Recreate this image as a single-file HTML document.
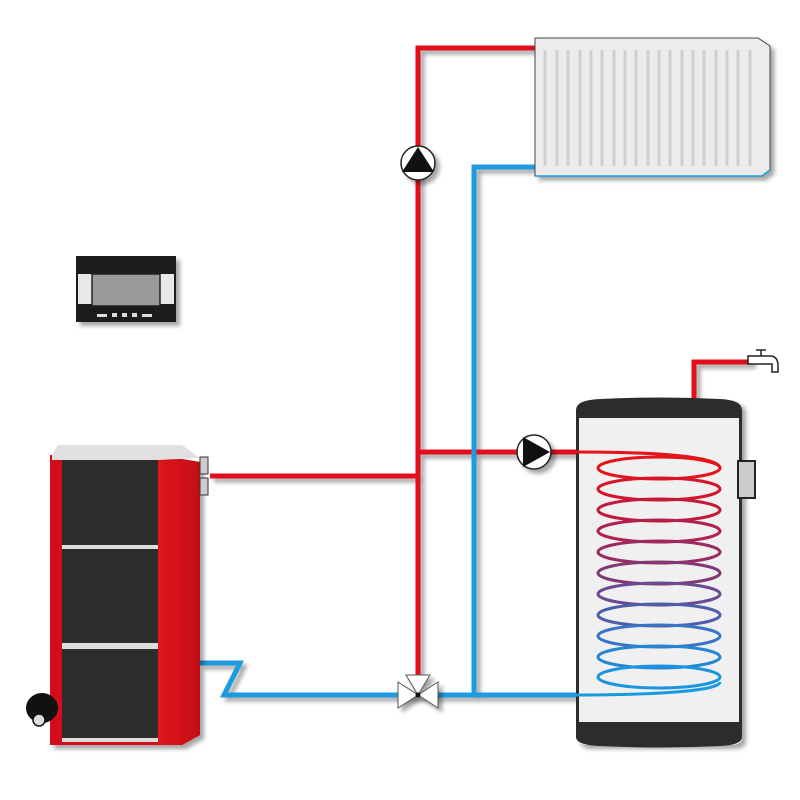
<!DOCTYPE html>
<html><head><meta charset="utf-8"><style>body{margin:0;background:#fff}svg{display:block}</style></head>
<body>
<svg width="800" height="800" viewBox="0 0 800 800" xmlns="http://www.w3.org/2000/svg">
<defs>
<linearGradient id="coil" x1="0" y1="0" x2="0" y2="1">
<stop offset="0" stop-color="#e5101a"/><stop offset="0.5" stop-color="#6a4a92"/><stop offset="1" stop-color="#1a9be0"/>
</linearGradient>
<linearGradient id="side" x1="0" y1="0" x2="1" y2="0">
<stop offset="0" stop-color="#e0141c"/><stop offset="1" stop-color="#c20e16"/>
</linearGradient>
<filter id="sh" x="-20%" y="-20%" width="140%" height="140%"><feDropShadow dx="4" dy="4" stdDeviation="2" flood-color="#000" flood-opacity="0.35"/></filter>
</defs>
<!-- controller -->
<g filter="url(#sh)">
<rect x="76" y="256" width="100" height="66" fill="#1a1a1a"/>
<rect x="78" y="274" width="96" height="30" fill="#e8e8e8"/>
<rect x="92" y="274" width="68" height="32" fill="#999" stroke="#222" stroke-width="1.5"/>
</g>
<g fill="#ddd"><rect x="97" y="314" width="10" height="3"/><rect x="112" y="313" width="5" height="4"/><rect x="122" y="313" width="5" height="4"/><rect x="132" y="313" width="5" height="4"/><rect x="142" y="314" width="10" height="3"/></g>
<!-- pipes -->
<g fill="none" stroke-width="5" filter="url(#sh)">
<path d="M418 680 V48 H536" stroke="#e3101a"/>
<path d="M210 476 H418" stroke="#e3101a"/>
<path d="M418 452 H578" stroke="#e3101a"/>
<path d="M694 402 V362 H752" stroke="#e3101a"/>
<path d="M474 695 V167 H536" stroke="#1a9be0"/>
<path d="M200 663 H240 L224 695 H578" stroke="#1a9be0"/>
</g>
<!-- radiator -->
<g filter="url(#sh)">
<path d="M535 38 H758 L770 46 V170 L762 176 H535 Z" fill="#ececec" stroke="#444" stroke-width="1"/>
</g>
<path d="M536 176 H762 L770 170" stroke="#1a9be0" stroke-width="1.5" fill="none"/>
<g stroke="#d0d0d0" stroke-width="3">
<line x1="545" y1="50" x2="545" y2="166"/><line x1="557" y1="50" x2="557" y2="166"/><line x1="568" y1="50" x2="568" y2="166"/><line x1="580" y1="50" x2="580" y2="166"/><line x1="591" y1="50" x2="591" y2="166"/><line x1="602" y1="50" x2="602" y2="166"/><line x1="614" y1="50" x2="614" y2="166"/><line x1="625" y1="50" x2="625" y2="166"/><line x1="636" y1="50" x2="636" y2="166"/><line x1="648" y1="50" x2="648" y2="166"/><line x1="659" y1="50" x2="659" y2="166"/><line x1="670" y1="50" x2="670" y2="166"/><line x1="682" y1="50" x2="682" y2="166"/><line x1="693" y1="50" x2="693" y2="166"/><line x1="704" y1="50" x2="704" y2="166"/><line x1="716" y1="50" x2="716" y2="166"/><line x1="727" y1="50" x2="727" y2="166"/><line x1="738" y1="50" x2="738" y2="166"/><line x1="750" y1="50" x2="750" y2="166"/>
</g>
<!-- pumps -->
<g filter="url(#sh)">
<circle cx="418" cy="163" r="17" fill="#fff" stroke="#222" stroke-width="1.5"/>
<circle cx="534" cy="452" r="17" fill="#fff" stroke="#222" stroke-width="1.5"/>
</g>
<path d="M418 147 L402 172 H434 Z" fill="#111"/>
<path d="M523 437 V467 L550 452 Z" fill="#111"/>
<!-- valve -->
<g filter="url(#sh)" fill="#fff" stroke="#555" stroke-width="1">
<path d="M406 675 H430 L418 695 Z"/>
<path d="M398 682 V708 L418 695 Z"/>
<path d="M438 682 V708 L418 695 Z"/>
</g>
<circle cx="418" cy="695" r="2.5" fill="#111"/>
<!-- boiler -->
<g filter="url(#sh)">
<path d="M50 455 H158 L200 462 V735 L182 745 H50 Z" fill="#d4111a"/>
</g>
<path d="M158 455 L200 462 V735 L182 745 H158 Z" fill="url(#side)"/>
<path d="M52 455 L58 445 H182 L200 458 L158 460 H52 Z" fill="#e0e0e0"/>
<rect x="62" y="460" width="96" height="282" fill="#2e2b2c"/>
<rect x="62" y="545" width="96" height="4" fill="#ddd"/>
<rect x="62" y="643" width="96" height="6" fill="#ddd"/>
<rect x="62" y="738" width="96" height="4" fill="#ddd"/>
<rect x="200" y="457" width="8" height="17" fill="#ccc" stroke="#333"/>
<rect x="200" y="478" width="8" height="17" fill="#ccc" stroke="#333"/>
<ellipse cx="42" cy="708" rx="16" ry="15" fill="#111"/>
<circle cx="39" cy="720" r="6" fill="#ddd" stroke="#111" stroke-width="1.5"/>
<!-- tank -->
<g filter="url(#sh)">
<path d="M576 410 Q576 400 590 400 H730 Q742 400 742 410 V737 Q742 745 730 745 H590 Q576 745 576 737 Z" fill="#f0f0f0"/>
</g>
<path d="M576 418 V410 Q576 400 600 399 Q659 396 720 399 Q742 400 742 410 V418 Z" fill="#2e2b2c"/>
<path d="M576 722 V737 Q576 745 600 746 Q659 749 720 746 Q742 745 742 737 V722 Z" fill="#2e2b2c"/>
<rect x="576" y="418" width="3" height="304" fill="#2e2b2c"/>
<rect x="739" y="418" width="3" height="304" fill="#2e2b2c"/>
<rect x="738" y="461" width="17" height="37" fill="#ccc" stroke="#222" stroke-width="2"/>
<g fill="none" stroke-width="3">
<path d="M576 452 C640 452 720 455 720 468" stroke="#e3141c"/>
<ellipse cx="659" cy="468" rx="61" ry="11" stroke="#e3141c"/>
<ellipse cx="659" cy="489" rx="61" ry="11" stroke="#d6152a"/>
<ellipse cx="659" cy="510" rx="61" ry="11" stroke="#c41a3a"/>
<ellipse cx="659" cy="531" rx="61" ry="11" stroke="#b2204d"/>
<ellipse cx="659" cy="552" rx="61" ry="11" stroke="#9c2a62"/>
<ellipse cx="659" cy="573" rx="61" ry="11" stroke="#833876"/>
<ellipse cx="659" cy="594" rx="61" ry="11" stroke="#6a4a92"/>
<ellipse cx="659" cy="615" rx="61" ry="11" stroke="#4f5eab"/>
<ellipse cx="659" cy="636" rx="61" ry="11" stroke="#3a74c4"/>
<ellipse cx="659" cy="657" rx="61" ry="11" stroke="#2686d4"/>
<ellipse cx="659" cy="677" rx="61" ry="11" stroke="#1a95de"/>
<path d="M720 682 C720 692 640 695 576 695" stroke="#1a9be0"/>
</g>
<!-- tap -->
<g stroke="#222" stroke-width="1.5" fill="#fff">
<path d="M748 356 H770 Q778 356 778 366 V372 H772 V364 H748 Z"/>
<line x1="756" y1="350" x2="766" y2="350"/><line x1="761" y1="350" x2="761" y2="356"/>
</g>
</svg>
</body></html>
